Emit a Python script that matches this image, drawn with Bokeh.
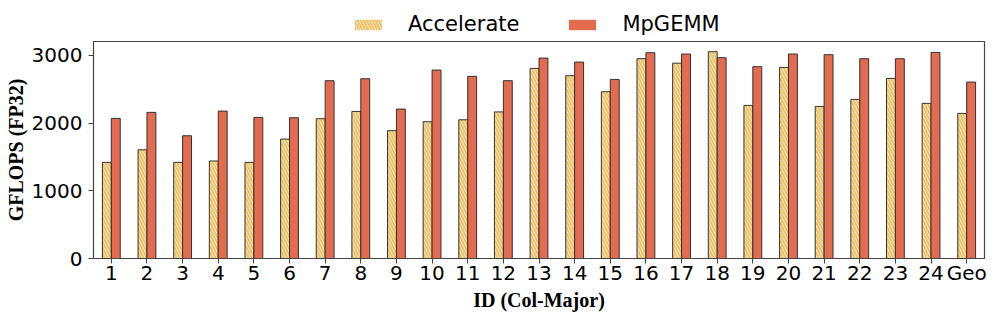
from bokeh.plotting import figure
from bokeh.layouts import column
from bokeh.models import FactorRange, Range1d, Legend, LegendItem, FixedTicker, ColumnDataSource
from bokeh.transform import dodge
from bokeh.embed import file_html
from bokeh.resources import INLINE

ids = [str(i) for i in range(1, 25)] + ["Geo"]
accelerate = [1420, 1605, 1420, 1440, 1420, 1764, 2065, 2172, 1888, 2020, 2049, 2165,
              2808, 2700, 2463, 2951, 2885, 3054, 2261, 2823, 2246, 2350, 2660, 2291, 2143]
mpgemm = [2069, 2158, 1813, 2177, 2084, 2079, 2626, 2655, 2207, 2783, 2690, 2626,
          2960, 2901, 2645, 3039, 3020, 2966, 2833, 3020, 3010, 2951, 2951, 3044, 2606]
y_ticks = [0, 1000, 2000, 3000]

ACC_COLOR = "#EBC46C"
MP_COLOR = "#E36B4F"
EDGE = "#333333"
ACC_STYLE = dict(fill_color="white", hatch_pattern="\\", hatch_color=ACC_COLOR,
                 hatch_scale=6, hatch_weight=2.3)

# ---- legend strip (proxy glyphs have zero height, so only the legend shows) ----
lg = figure(width=988, height=41, x_range=Range1d(0, 1), y_range=Range1d(0, 1),
            x_axis_location=None, y_axis_location=None,
            output_backend="svg", toolbar_location=None)
lg.grid.grid_line_color = None
lg.outline_line_color = None
lg.min_border = 0
la = lg.vbar(x=[0.5], top=[0], bottom=[0], width=0.01, line_color=None, **ACC_STYLE)
lm = lg.vbar(x=[0.5], top=[0], bottom=[0], width=0.01, fill_color=MP_COLOR, line_color=None)
legend = Legend(items=[LegendItem(label="Accelerate", renderers=[la]),
                       LegendItem(label="MpGEMM", renderers=[lm])],
                orientation="horizontal", location=(258, 5),
                label_text_font="DejaVu Sans", label_text_font_size="21px",
                label_text_color="black",
                glyph_width=34, glyph_height=13, label_standoff=23, spacing=46,
                padding=4, margin=0, border_line_color=None, background_fill_alpha=0)
lg.add_layout(legend)

# ---- main chart ----
p = figure(x_range=FactorRange(*ids), y_range=Range1d(0, 3205),
           frame_width=891, frame_height=217,
           output_backend="svg", toolbar_location=None)
p.min_border_left = 93
p.min_border_right = 4
p.min_border_top = 0
p.min_border_bottom = 50

src = ColumnDataSource(dict(ids=ids, acc=accelerate, mp=mpgemm))
p.vbar(x=dodge("ids", -0.125, range=p.x_range), top="acc", width=0.25, source=src,
       line_color=EDGE, line_width=1, **ACC_STYLE)
p.vbar(x=dodge("ids", 0.125, range=p.x_range), top="mp", width=0.25, source=src,
       fill_color=MP_COLOR, line_color=EDGE, line_width=1)

p.xgrid.grid_line_color = None
p.ygrid.grid_line_color = None
p.outline_line_color = "#444444"
p.outline_line_width = 1.2

p.yaxis.ticker = FixedTicker(ticks=y_ticks)
for ax in (p.xaxis, p.yaxis):
    ax.major_label_text_font = "DejaVu Sans"
    ax.major_label_text_font_size = "20px"
    ax.major_label_text_color = "black"
    ax.axis_label_text_font = "Liberation Serif"
    ax.axis_label_text_font_style = "bold"
    ax.axis_label_text_font_size = "20px"
    ax.axis_label_text_color = "black"
    ax.axis_line_color = "#444444"
    ax.major_tick_line_color = "#444444"
    ax.major_tick_out = 5
    ax.major_tick_in = 0
    ax.minor_tick_line_color = None
    ax.major_label_standoff = 3
    ax.axis_label_standoff = 0
p.xaxis.major_label_standoff = -3
p.xaxis.axis_label_standoff = 1
p.yaxis.major_label_standoff = 6
p.yaxis.axis_label_standoff = 2
p.xaxis.axis_label = "ID (Col-Major)"
p.yaxis.axis_label = "GFLOPS (FP32)"

layout = column(lg, p, spacing=0)
open("out.html", "w").write(file_html(layout, INLINE))
